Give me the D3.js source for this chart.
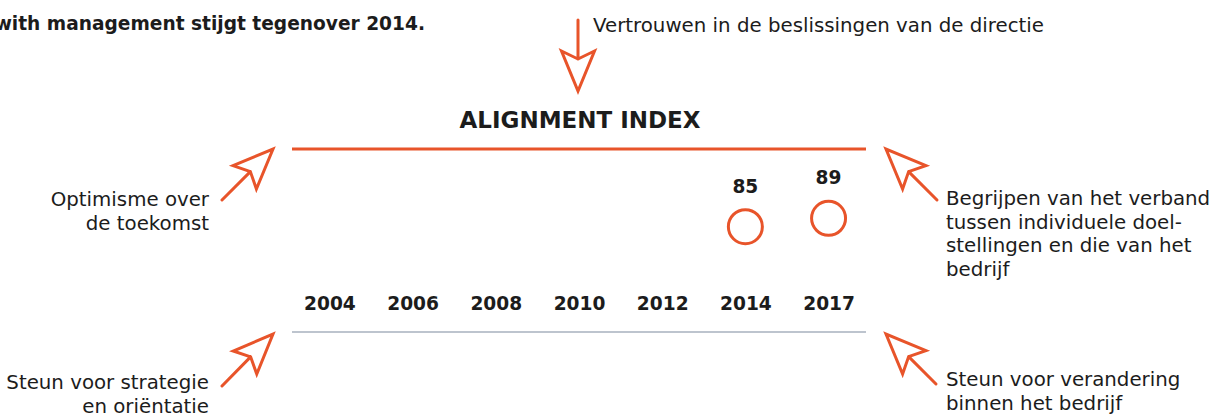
<!DOCTYPE html>
<html>
<head>
<meta charset="utf-8">
<script src="https://cdn.jsdelivr.net/npm/d3@7"></script>
<style>
  html, body { margin: 0; padding: 0; background: #fff; }
  svg { display: block; font-family: "DejaVu Sans", sans-serif; }
</style>
</head>
<body>
<svg id="chart"></svg>
<script>
// data
const years = ['2004', '2006', '2008', '2010', '2012', '2014', '2017'];
const alignment = [null, null, null, null, null, 85, 89];

const headline = 'with management stijgt tegenover 2014.';
const title = 'ALIGNMENT INDEX';
const notes = [
  ['Vertrouwen in de beslissingen van de directie'],
  ['Optimisme over', 'de toekomst'],
  ['Begrijpen van het verband', 'tussen individuele doel-', 'stellingen en die van het', 'bedrijf'],
  ['Steun voor strategie', 'en oriëntatie'],
  ['Steun voor verandering', 'binnen het bedrijf']
];

const width = 1225;
const height = 415;
const orange = '#e8542a';
const ink = '#1c1c1c';

const svg = d3.select('#chart')
  .attr('width', width)
  .attr('height', height);

const x = d3.scalePoint()
  .domain(years)
  .range([292, 866])
  .padding(0.45);

const y = d3.scaleLinear()
  .domain([80, 100])
  .range([237.2, 195.2]);

// headline, cut off on the left like the source
svg.append('text')
  .attr('x', 425)
  .attr('y', 30)
  .attr('text-anchor', 'end')
  .attr('font-size', 18.6)
  .attr('font-weight', 700)
  .attr('fill', ink)
  .text(headline);

svg.append('text')
  .attr('x', 580)
  .attr('y', 128)
  .attr('text-anchor', 'middle')
  .attr('font-size', 23)
  .attr('font-weight', 700)
  .attr('fill', ink)
  .text(title);

// top and bottom rules
svg.append('line')
  .attr('x1', 292).attr('x2', 866)
  .attr('y1', 149).attr('y2', 149)
  .attr('stroke', orange)
  .attr('stroke-width', 3);

svg.append('line')
  .attr('x1', 292).attr('x2', 866)
  .attr('y1', 332).attr('y2', 332)
  .attr('stroke', '#a7b1be')
  .attr('stroke-width', 1.5);

// year axis without domain line or ticks
const axis = svg.append('g')
  .attr('transform', 'translate(0,310)')
  .call(d3.axisBottom(x).tickSize(0).tickPadding(0));
axis.select('.domain').remove();
axis.selectAll('text')
  .attr('dy', 0)
  .attr('font-family', 'DejaVu Sans, sans-serif')
  .attr('font-size', 18.6)
  .attr('font-weight', 700)
  .attr('fill', ink);

const points = years
  .map((yr, i) => ({ year: yr, value: alignment[i] }))
  .filter(d => d.value != null);

svg.selectAll('.dot')
  .data(points)
  .enter()
  .append('circle')
  .attr('class', 'dot')
  .attr('cx', d => x(d.year))
  .attr('cy', d => y(d.value))
  .attr('r', 17)
  .attr('fill', 'none')
  .attr('stroke', orange)
  .attr('stroke-width', 3);

svg.selectAll('.val')
  .data(points)
  .enter()
  .append('text')
  .attr('class', 'val')
  .attr('x', d => x(d.year))
  .attr('y', d => y(d.value) - 34)
  .attr('text-anchor', 'middle')
  .attr('font-size', 18.6)
  .attr('font-weight', 700)
  .attr('fill', ink)
  .text(d => d.value);

// hand-drawn style arrows: tail -> tip
const arrows = [
  { tail: [578, 20], tip: [578, 91] },
  { tail: [222, 200], tip: [273, 149] },
  { tail: [937, 200], tip: [886, 149] },
  { tail: [222, 386], tip: [273, 334] },
  { tail: [936, 384], tip: [886, 334] }
];

function arrowPath(a) {
  const dx = a.tip[0] - a.tail[0];
  const dy = a.tip[1] - a.tail[1];
  const len = Math.hypot(dx, dy);
  const ux = dx / len, uy = dy / len;
  const px = -uy, py = ux;
  const back = 40, wing = 16.5, notch = 32;
  const at = (b, s) => [a.tip[0] - ux * b + px * s, a.tip[1] - uy * b + py * s];
  const n = at(notch, 0);
  const w1 = at(back, wing);
  const w2 = at(back, -wing);
  return d3.line()([a.tail, n]) + d3.line()([n, w1, a.tip, w2, n]);
}

svg.selectAll('.arrow')
  .data(arrows)
  .enter()
  .append('path')
  .attr('class', 'arrow')
  .attr('d', arrowPath)
  .attr('fill', 'none')
  .attr('stroke', orange)
  .attr('stroke-width', 3)
  .attr('stroke-linejoin', 'miter')
  .attr('stroke-linecap', 'round');

// annotation labels
const noteLayout = [
  { x: 593, y: 32, anchor: 'start' },
  { x: 209, y: 206, anchor: 'end' },
  { x: 946, y: 205, anchor: 'start' },
  { x: 209, y: 389, anchor: 'end' },
  { x: 946, y: 386, anchor: 'start' }
];

notes.forEach((lines, i) => {
  const pos = noteLayout[i];
  const t = svg.append('text')
    .attr('x', pos.x)
    .attr('y', pos.y)
    .attr('text-anchor', pos.anchor)
    .attr('font-size', 19.8)
    .attr('fill', ink);
  t.selectAll('tspan')
    .data(lines)
    .enter()
    .append('tspan')
    .attr('x', pos.x)
    .attr('dy', (d, j) => j === 0 ? 0 : 23.5)
    .text(d => d);
});
</script>
</body>
</html>
